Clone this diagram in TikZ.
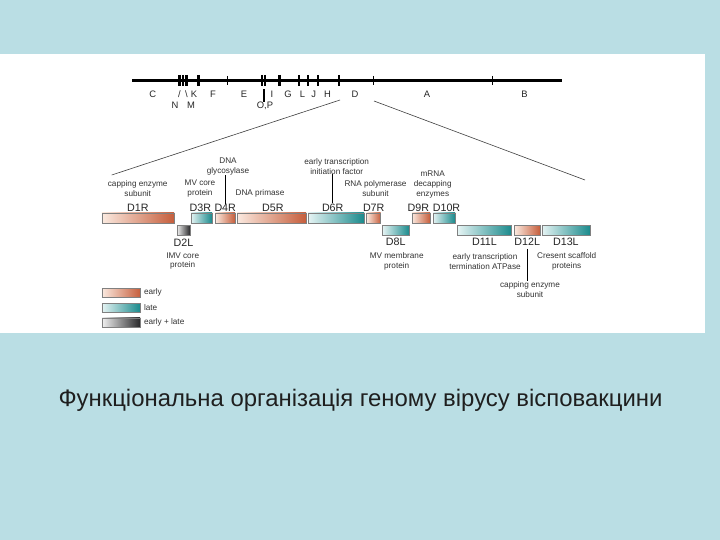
\documentclass[tikz,border=0pt]{standalone}
\usepackage{fontspec}
\setmainfont{Liberation Sans}
\usetikzlibrary{positioning}
\definecolor{slideblue}{RGB}{186,222,228}
\definecolor{earlydark}{RGB}{198,94,60}
\definecolor{earlylight}{RGB}{251,234,224}
\definecolor{latedark}{RGB}{26,138,140}
\definecolor{latelight}{RGB}{230,244,244}
\definecolor{mixdark}{RGB}{40,40,42}
\definecolor{mixlight}{RGB}{242,242,242}

\begin{document}
\begin{tikzpicture}[x=1pt,y=-1pt,
  gene/.style={draw=black!50,line width=0.5pt,minimum height=10pt,inner sep=0pt},
  early/.style={gene,left color=earlylight,right color=earlydark},
  late/.style={gene,left color=latelight,right color=latedark},
  mixed/.style={gene,left color=mixlight,right color=mixdark},
  gname/.style={font=\fontsize{10.7}{11}\selectfont,inner sep=0pt,text=black!85},
  note/.style={font=\fontsize{8.2}{9.8}\selectfont,align=center,inner sep=0pt,
    text=black!80},
  locus/.style={font=\fontsize{9.4}{10}\selectfont,inner sep=0pt,text=black!85},
  majtick/.style={line width=2.4pt},
  mintick/.style={line width=0.7pt},
  pointer/.style={line width=1.2pt},
  zoomline/.style={line width=0.6pt,draw=black!75}]

% slide and white panel
\fill[slideblue] (0,0) rectangle (720,540);
\fill[white] (0,54) rectangle (705,333);

% genome map
\draw[line width=2.7pt] (132,80.7) -- (562,80.7);
\draw[majtick] (179.5,75) -- ++(0,11) (183,75) -- ++(0,11)
  (186.5,75) -- ++(0,11) (198.5,75) -- ++(0,11)
  (261.7,75) -- ++(0,11) (264.7,75) -- ++(0,11) (279.3,75) -- ++(0,11)
  (339,75) -- ++(0,11);
\draw[line width=1.8pt] (299,75) -- ++(0,11) (308.3,75) -- ++(0,11)
  (317.7,75) -- ++(0,11);
\draw[mintick] (227.7,76) -- ++(0,9) (373.3,76) -- ++(0,9)
  (492.7,76) -- ++(0,9);
\draw[line width=1.8pt] (263.7,89.3) -- (263.7,101.7);

\node[locus] (locC) at (152.7,94) {C};
\node[locus] (locNs) at (179.4,94) {/};
\node[locus] (locMs) at (186.5,94) {\textbackslash};
\node[locus] (locK) at (194,94) {K};
\node[locus] (locF) at (212.9,94) {F};
\node[locus] (locE) at (244,94) {E};
\node[locus] (locI) at (272,94) {I};
\node[locus] (locG) at (288,94) {G};
\node[locus] (locL) at (302.6,94) {L};
\node[locus] (locJ) at (313.7,94) {J};
\node[locus] (locH) at (327.5,94) {H};
\node[locus] (locD) at (354.9,94) {D};
\node[locus] (locA) at (427,94) {A};
\node[locus] (locB) at (524.5,94) {B};
\node[locus] (locN) at (175,105.5) {N};
\node[locus] (locM) at (191,105.5) {M};
\node[locus] (locOP) at (265,105.5) {O,P};

% zoom onto the D fragment
\coordinate (dleft) at (340,100);
\coordinate (dright) at (374,101);
\coordinate (zoomleft) at (111.7,175);
\coordinate (zoomright) at (585,180);
\draw[zoomline] (dleft) -- (zoomleft);
\draw[zoomline] (dright) -- (zoomright);

% rightward genes
\node[early,minimum width=72.3pt] (d1r) at (137.9,218) {};
\node[late,minimum width=21.3pt] (d3r) at (201.4,218) {};
\node[early,minimum width=19.7pt] (d4r) at (225.2,218) {};
\node[early,minimum width=69.3pt] (d5r) at (271.4,218) {};
\node[late,minimum width=56pt] (d6r) at (336,218) {};
\node[early,minimum width=14pt] (d7r) at (373.7,218) {};
\node[early,minimum width=18.3pt] (d9r) at (420.9,218) {};
\node[late,minimum width=22pt] (d10r) at (444,218) {};

% leftward genes
\node[mixed,minimum width=13.3pt] (d2l) at (183.4,230.5) {};
\node[late,minimum width=27pt] (d8l) at (395.8,230.5) {};
\node[late,minimum width=54.4pt] (d11l) at (484.5,230.5) {};
\node[early,minimum width=25.7pt] (d12l) at (527.2,230.5) {};
\node[late,minimum width=48.3pt] (d13l) at (565.9,230.5) {};

\node[gname,above=1.3pt of d1r] (d1rlab) {D1R};
\node[gname,above=1.3pt of d3r,xshift=-1pt] (d3rlab) {D3R};
\node[gname,above=1.3pt of d4r] (d4rlab) {D4R};
\node[gname,above=1.3pt of d5r,xshift=1.5pt] (d5rlab) {D5R};
\node[gname,above=1.3pt of d6r,xshift=-3.3pt] (d6rlab) {D6R};
\node[gname,above=1.3pt of d7r] (d7rlab) {D7R};
\node[gname,above=1.3pt of d9r,xshift=-2.5pt] (d9rlab) {D9R};
\node[gname,above=1.3pt of d10r,xshift=2.5pt] (d10rlab) {D10R};
\node[gname,below=3.2pt of d2l] (d2llab) {D2L};
\node[gname,below=1.8pt of d8l] (d8llab) {D8L};
\node[gname,below=1.8pt of d11l] (d11llab) {D11L};
\node[gname,below=1.8pt of d12l] (d12llab) {D12L};
\node[gname,below=1.8pt of d13l] (d13llab) {D13L};

% gene products
\node[note] (cap1) at (137.7,188.3) {capping enzyme\\subunit};
\node[note] (mvcore) at (200,188.3) {MV core\\protein};
\node[note] (glyc) at (228,166.2) {DNA\\glycosylase};
\node[note] (primase) at (260,193.3) {DNA primase};
\node[note] (eti) at (336.7,166.2) {early transcription\\initiation factor};
\node[note] (rnapol) at (375.5,188.5) {RNA polymerase\\subunit};
\node[note] (decap) at (432.7,184.3) {mRNA\\decapping\\enzymes};
\node[note] (imv) at (182.7,261) {IMV core\\protein};
\node[note] (mvmem) at (396.7,261.2) {MV membrane\\protein};
\node[note] (etterm) at (485,261.2) {early transcription\\termination ATPase};
\node[note] (scaff) at (566.7,261.2) {Cresent scaffold\\proteins};
\node[note] (cap2) at (530,289.5) {capping enzyme\\subunit};

\draw[pointer] (d4rlab.north) -- (d4rlab.north |- glyc.south);
\draw[pointer] (d6rlab.north) -- (d6rlab.north |- eti.south);
\draw[pointer,shorten <=3.5pt] (d12llab.south) -- (d12llab.south |- cap2.north);

% key
\node[early,minimum width=38.3pt,minimum height=9pt] (keyearly) at (120.9,292.8) {};
\node[late,minimum width=38.3pt,minimum height=9pt] (keylate) at (120.9,307.5) {};
\node[mixed,minimum width=38.3pt,minimum height=9pt] (keymixed) at (120.9,322.3) {};
\node[note,right=3.5pt of keyearly] (keyearlytxt) {early};
\node[note,right=3.5pt of keylate] (keylatetxt) {late};
\node[note,right=3.5pt of keymixed] (keymixedtxt) {early + late};

% slide caption
\node[font=\fontsize{23.9}{27}\selectfont,text=black!88] (caption) at (360.5,400)
  {Функціональна організація геному вірусу вісповакцини};
\end{tikzpicture}
\end{document}
